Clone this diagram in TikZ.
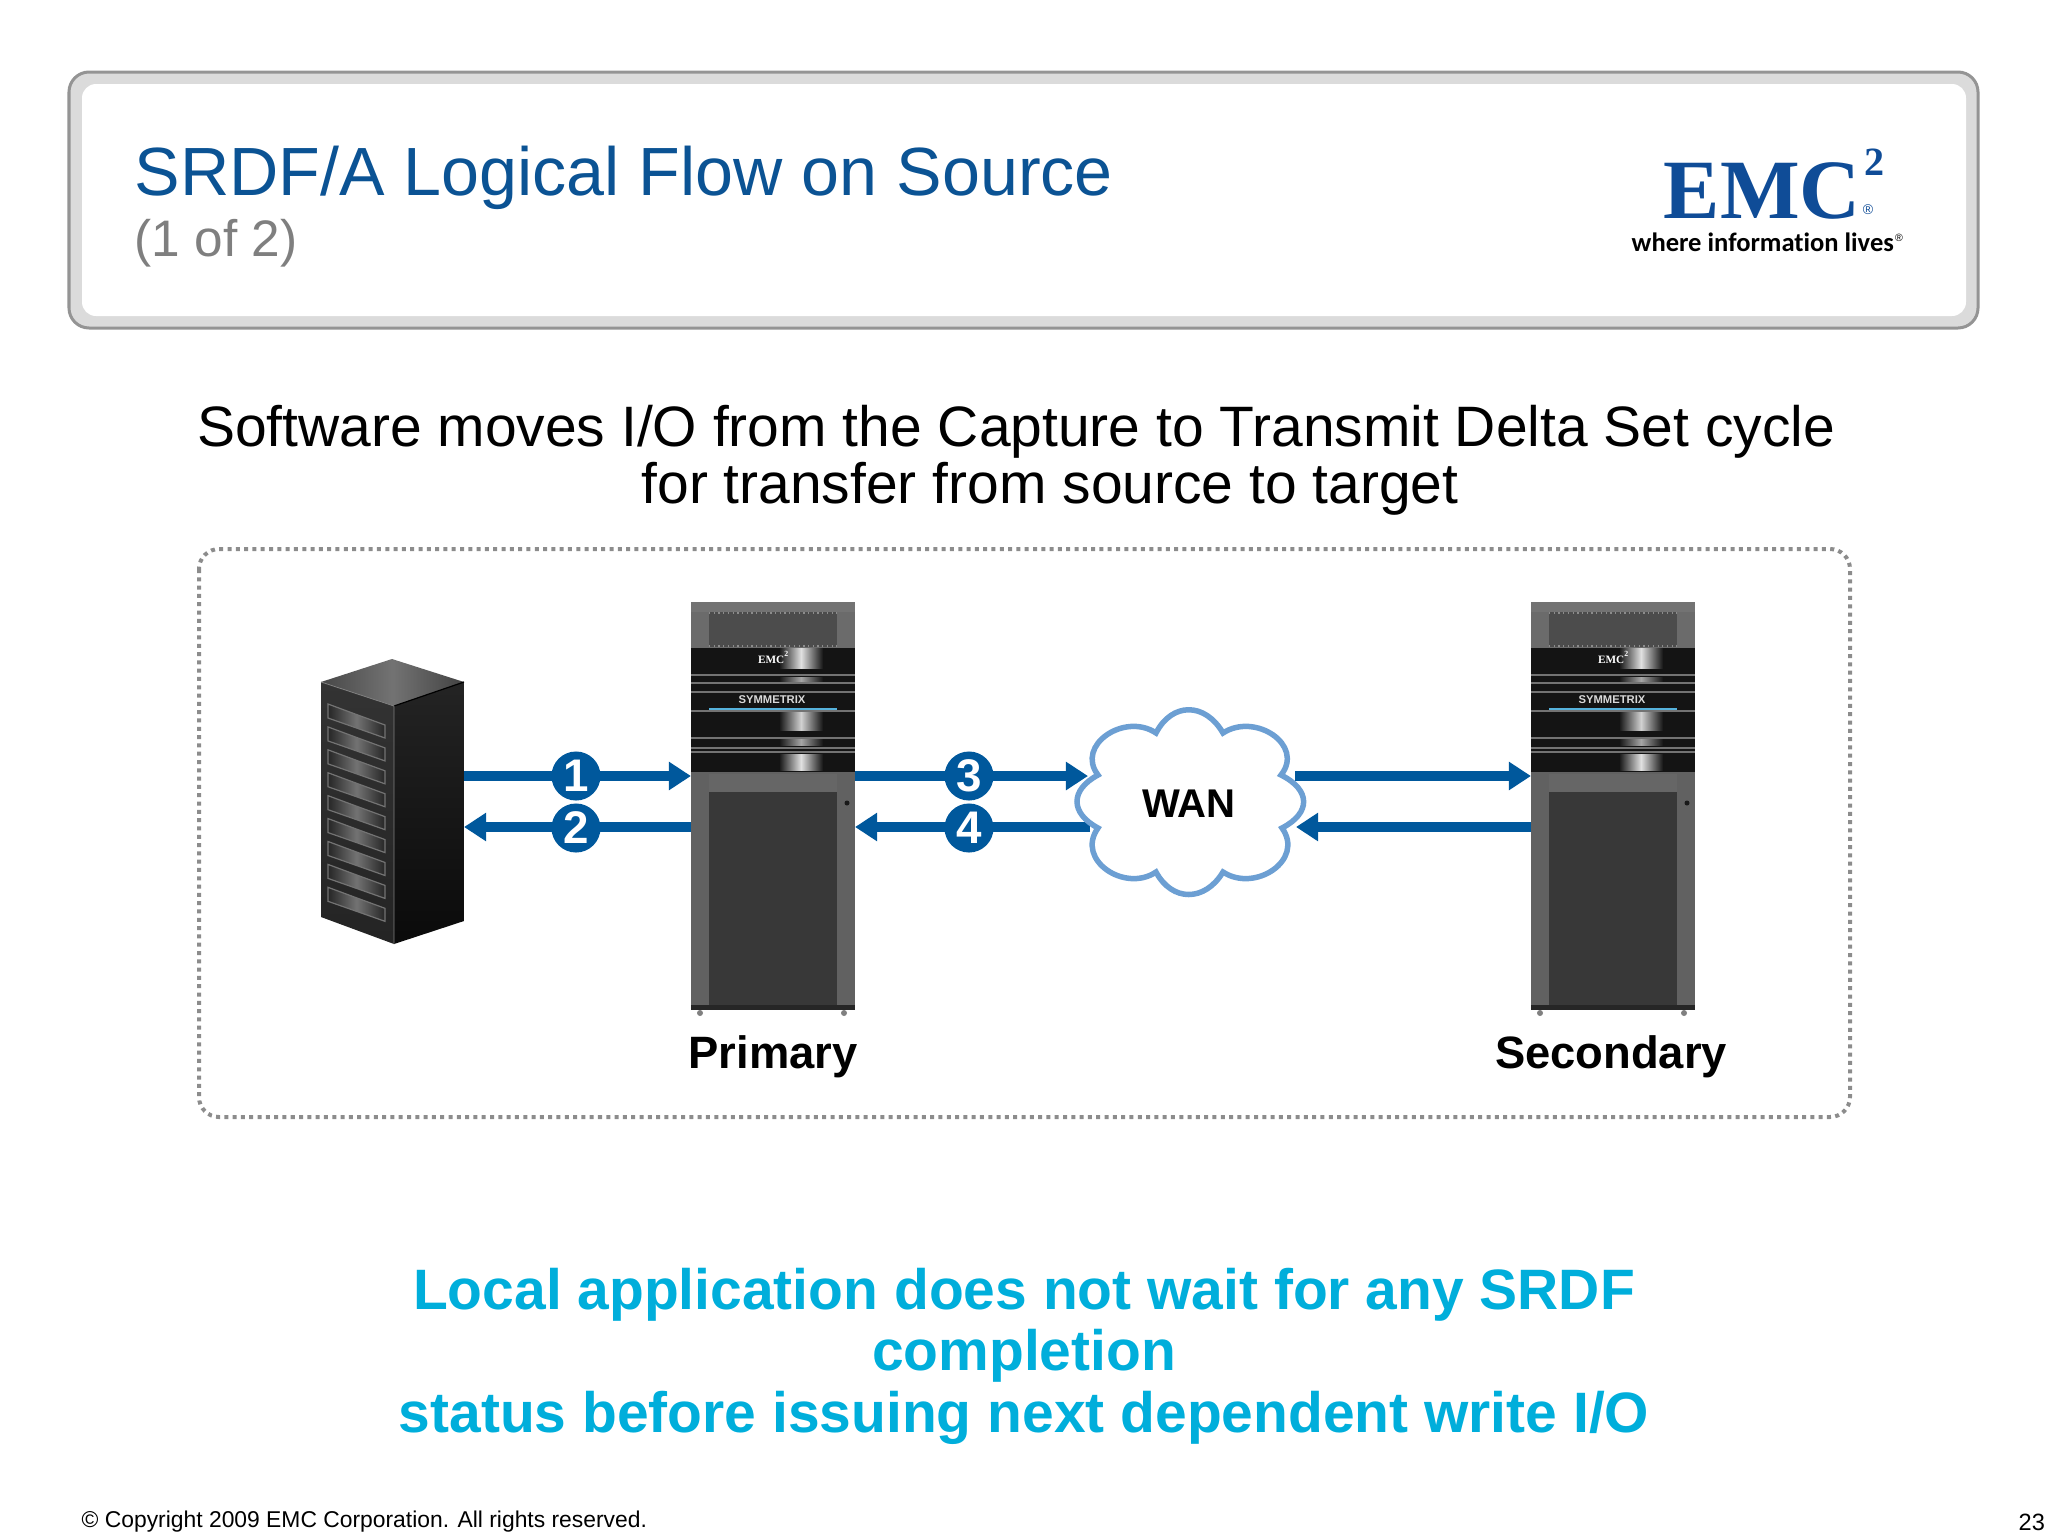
\documentclass[tikz,border=0pt]{standalone}
\usepackage{fontspec}
\setmainfont{Liberation Sans}
\newfontfamily\logoserif{Liberation Serif}
\newfontfamily\logosans[Ligatures=NoCommon]{Carlito}
\usetikzlibrary{arrows.meta}

\definecolor{flowblue}{HTML}{00589C}
\definecolor{titleblue}{HTML}{0B5394}
\definecolor{subgray}{HTML}{7F7F7F}
\definecolor{noteblue}{HTML}{00AEDB}
\definecolor{cloudblue}{HTML}{6C9FD3}
\definecolor{logoblue}{HTML}{0F4C97}

\tikzset{
    flow/.style={draw=flowblue, line width=0.095cm, -{Triangle[length=0.22cm,width=0.27cm]}},
    badge/.style={circle, fill=flowblue, minimum size=0.49cm, inner sep=0pt, text=white, font=\fontsize{13pt}{13pt}\selectfont\bfseries},
    lefttext/.style={anchor=base west, inner sep=0pt},
    midtext/.style={anchor=base, inner sep=0pt},
    boxlabel/.style={midtext, font=\fontsize{12.9pt}{13pt}\selectfont\bfseries},
    bodytext/.style={midtext, font=\fontsize{16.2pt}{16pt}\selectfont},
    notetext/.style={midtext, text=noteblue, font=\fontsize{16.2pt}{17pt}\selectfont\bfseries},
    rackbox/.style={minimum width=1.64cm, minimum height=4.08cm, inner sep=0pt, outer sep=0pt},
    strip/.style={left color=black!92, right color=black!92, middle color=#1},
    pics/rack/.style={code={
        % Top part
        \fill[black!55] (0, 0) rectangle (164, 10);
        \fill[black!58] (0, 10) rectangle (164, 46);
        \fill[black!70] (18, 10) rectangle (146, 45);
        \draw[black!45, line width=0.012cm, densely dotted] (18, 11) -- (146, 11);
        \draw[black!45, line width=0.012cm, densely dotted] (18, 44) -- (146, 44);
        % Front band
        \fill[black!92] (0, 46) rectangle (164, 170);
        \fill[strip=black!12] (88, 46) rectangle (132, 66);
        \fill[strip=black!35] (88, 75) rectangle (132, 81);
        \fill[strip=black!18] (88, 110) rectangle (132, 128);
        \fill[strip=black!35] (88, 136) rectangle (132, 143);
        \fill[strip=black!12] (88, 152) rectangle (132, 168);
        \foreach \liney in {73, 81, 90, 109, 136, 146, 150}
            \draw[black!55, line width=0.012cm] (0, \liney) -- (164, \liney);
        \draw[cloudblue!80!cyan, line width=0.025cm] (18, 107) -- (146, 107);
        \node[text=white, font=\logoserif\fontsize{3.2pt}{4pt}\selectfont\bfseries, inner sep=0pt] (-emc) at (83, 55) {EMC\textsuperscript{2}};
        \node[text=black!15, font=\fontsize{3.2pt}{3pt}\selectfont\bfseries, inner sep=0pt] (-name) at (81, 98) {SYMMETRIX};
        % Door
        \fill[black!62] (0, 170) rectangle (164, 406);
        \fill[black!78] (18, 172) rectangle (146, 403);
        \fill[black!60] (18, 172) rectangle (146, 190);
        \fill[black!85] (0, 403) rectangle (164, 408);
        \fill[black!90] (156, 201) circle (2.5);
        \fill[black!50] (9, 411) circle (3);
        \fill[black!50] (153, 411) circle (3);
    }}
}

\begin{document}
\begin{tikzpicture}[x=0.01cm, y=-0.01cm]
    \useasboundingbox (0, 0) rectangle (2048, 1536);

    % Declare the header
    \draw[draw=black!42, fill=black!14, line width=0.03cm, rounded corners=0.2cm] (69, 72) rectangle (1978, 328);
    \fill[white, rounded corners=0.14cm] (82, 84) rectangle (1966, 316);
    \node[lefttext, text=titleblue, font=\fontsize{19.4pt}{20pt}\selectfont] (title) at (134, 195) {SRDF/A Logical Flow on Source};
    \node[lefttext, text=subgray, font=\fontsize{14.6pt}{15pt}\selectfont] (part) at (134, 256) {(1 of 2)};

    % Declare the logo
    \node[lefttext, text=logoblue, font=\logoserif\fontsize{24pt}{25pt}\selectfont\bfseries] (logo) at (1663, 218) {EMC};
    \node[lefttext, text=logoblue, font=\logoserif\fontsize{11.4pt}{12pt}\selectfont\bfseries] (logotwo) at (1864, 175) {2};
    \node[text=logoblue, font=\fontsize{4pt}{4pt}\selectfont, inner sep=0pt] (logoreg) at (1868, 210) {®};
    \node[lefttext, font=\logosans\fontsize{7.55pt}{9pt}\selectfont\bfseries] (slogan) at (1631, 251) {where information lives};
    \node[font=\fontsize{3pt}{3pt}\selectfont, inner sep=0pt] (sloganreg) at (1899, 238) {®};

    % Declare the heading lines
    \node[bodytext] (lineone) at (1016, 446) {Software moves I/O from the Capture to Transmit Delta Set cycle};
    \node[bodytext] (linetwo) at (1050, 503) {for transfer from source to target};

    % Declare the dotted box
    \draw[draw=black!45, line width=0.04cm, dash pattern=on 0.04cm off 0.043cm, rounded corners=0.2cm] (199, 549) rectangle (1850, 1117);

    % Declare the host
    \node[minimum width=1.43cm, minimum height=2.85cm, inner sep=0pt, outer sep=0pt] (host) at (392.5, 801.5) {};
    \shade[left color=black!72, right color=black!74, middle color=black!55] (321, 682) -- (392, 659) -- (464, 682) -- (394, 706) -- cycle;
    \shade[top color=black!80, bottom color=black!86] (321, 682) -- (394, 706) -- (394, 944) -- (321, 917) -- cycle;
    \shade[top color=black!86, bottom color=black!96] (394, 706) -- (464, 682) -- (464, 921) -- (394, 944) -- cycle;
    \draw[black, line width=0.012cm] (394, 706) -- (464, 682);
    \draw[black!50, line width=0.008cm] (321, 682) -- (394, 706) -- (394, 944);
    \foreach \i in {0, ..., 8}
        \shade[draw=black!55, line width=0.012cm, left color=black!85, right color=black!85, middle color=black!55, yshift=-0.229cm*\i]
            (328, 704) -- (385, 725) -- (385, 738) -- (328, 718) -- cycle;

    % Declare the arrays
    \node[rackbox] (primary) at (773, 806) {};
    \node[rackbox] (secondary) at (1613, 806) {};
    \pic (primaryrack) at (691, 602) {rack};
    \pic (secondaryrack) at (1531, 602) {rack};

    % Declare the rows and cloud ends
    \coordinate (rowa) at (0, 776);
    \coordinate (rowb) at (0, 827);
    \coordinate (wanwa) at (1088, 776);
    \coordinate (wanwb) at (1090, 827);
    \coordinate (wanea) at (1295, 776);
    \coordinate (waneb) at (1296, 827);

    % Declare edges
    \draw[flow] (host.east |- rowa) -- (primary.west |- rowa);
    \draw[flow] (primary.west |- rowb) -- (host.east |- rowb);
    \draw[flow] (primary.east |- rowa) -- (wanwa);
    \draw[flow] (wanwb) -- (primary.east |- rowb);
    \draw[flow] (wanea) -- (secondary.west |- rowa);
    \draw[flow] (secondary.west |- rowb) -- (waneb);

    % Declare the cloud
    \draw[draw=cloudblue, fill=white, line width=0.055cm]
        (1156, 733) .. controls (1172, 702) and (1205, 702) .. (1223, 733)
        .. controls (1255, 712) and (1305, 745) .. (1281, 775)
        .. controls (1311, 790) and (1311, 813) .. (1282, 828)
        .. controls (1305, 860) and (1255, 893) .. (1223, 872)
        .. controls (1205, 902) and (1172, 902) .. (1156, 872)
        .. controls (1125, 893) and (1075, 860) .. (1098, 828)
        .. controls (1070, 813) and (1070, 790) .. (1098, 775)
        .. controls (1075, 745) and (1125, 712) .. cycle;
    \node[font=\fontsize{11.4pt}{12pt}\selectfont\bfseries, inner sep=0pt] (wan) at (1189, 804) {WAN};

    % Declare the badges
    \node[badge] (one) at (576, 776) {1};
    \node[badge] (two) at (576, 828) {2};
    \node[badge] (three) at (969, 776) {3};
    \node[badge] (four) at (969, 828) {4};

    % Declare the labels
    \node[boxlabel] (primarylabel) at (773, 1068) {Primary};
    \node[boxlabel] (secondarylabel) at (1611, 1068) {Secondary};

    % Declare the note
    \node[notetext] (noteone) at (1024, 1309) {Local application does not wait for any SRDF};
    \node[notetext] (notetwo) at (1024, 1370) {completion};
    \node[notetext] (notethree) at (1024, 1432) {status before issuing next dependent write I/O};

    % Declare the footer
    \node[lefttext, font=\fontsize{6.5pt}{7pt}\selectfont] (copyright) at (81, 1527) {© Copyright 2009 EMC Corporation. All rights reserved.};
    \node[lefttext, font=\fontsize{6.7pt}{7pt}\selectfont] (pagenum) at (2018, 1530) {23};
\end{tikzpicture}
\end{document}
